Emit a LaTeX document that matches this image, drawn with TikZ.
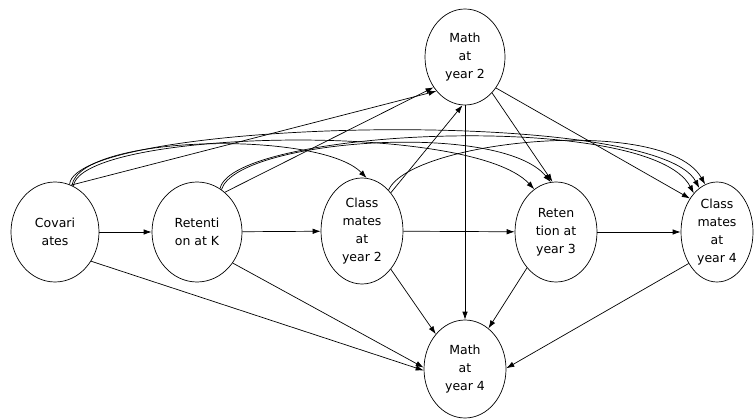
\documentclass[tikz,border=0pt]{standalone}
\usepackage{fontspec}
\setmainfont{DejaVu Sans}
\usetikzlibrary{shapes.geometric,arrows.meta}
\tikzstyle{var}=[draw, ellipse, inner sep=0pt, align=center, font=\fontsize{12.5}{18}\selectfont]
\tikzstyle{var1}=[var, minimum width=88pt, minimum height=100pt]
\tikzstyle{var2}=[var, minimum width=82pt, minimum height=100pt]

\begin{document}
\begin{tikzpicture}[x=1pt,y=-1pt,>={Latex[length=8pt,width=5.5pt]},line width=0.7pt]
\useasboundingbox (0,0) rectangle (754,419);

% row of the timeline
\node[var1] at (55,232) (cov) {Covari\\ates};
\node[var1, minimum width=90pt] at (197,232) (retk) {Retenti\\on at K};
\node[var2, minimum height=106pt] at (362,231) (class2) {Class\\mates\\at\\year 2};
\node[var2] at (556,232) (ret3) {Reten\\tion at\\year 3};
\node[var2, minimum width=72pt] at (717,232) (class4) {Class\\mates\\at\\year 4};

% outcomes
\node[var, minimum width=80pt, minimum height=96pt] at (465,57) (math2) {Math\\at\\year 2};
\node[var2, minimum height=98pt] at (465,369) (math4) {Math\\at\\year 4};

\draw[->] (cov) -- (retk);
\draw[->] (retk) -- (class2);
\draw[->] (class2) -- (ret3);
\draw[->] (ret3) -- (class4);

\draw[->] (cov.71) -- (math2.230);
\draw[->] (retk.55) -- (math2.224);
\draw[->] (class2.53) -- (math2.267);
\draw[->] (math2) -- (math4);
\draw[->] (math2.-53) -- (ret3.94);
\draw[->] (math2.-45) -- (class4.129);

\draw[->] (cov.-39) -- (math4.182);
\draw[->] (retk.-41) -- (math4.178);
\draw[->] (class2.-53) -- (math4.130);
\draw[->] (ret3.231) -- (math4.60);
\draw[->] (class4.228) -- (math4.1);

% long range effects
\draw[->] (cov.70) .. controls +(8,-51) and +(-47,-48) .. (class2.85);
\draw[->] (cov.68) .. controls +(6,-56) and +(-64,-69) .. (ret3.117);
\draw[->] (cov.73) .. controls +(6,-65) and +(-44,-83) .. (class4.112);
\draw[->] (retk.60) .. controls +(15,-50) and +(-51,-62) .. (ret3.96);
\draw[->] (retk.62) .. controls +(12,-60) and +(-44,-84) .. (class4.121);
\draw[->] (class2.57) .. controls +(22,-50) and +(-40,-70) .. (class4.104);
\end{tikzpicture}
\end{document}
